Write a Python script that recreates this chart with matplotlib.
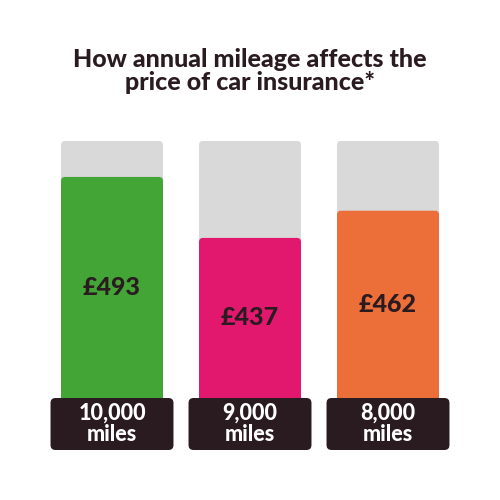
import matplotlib
matplotlib.use("Agg")
import matplotlib.pyplot as plt
from matplotlib.patches import FancyBboxPatch

plt.rcParams['font.family'] = ['Lato', 'DejaVu Sans']

# data
mileage = ["10,000\nmiles", "9,000\nmiles", "8,000\nmiles"]
price = [493, 437, 462]
colours = ["#43a535", "#e2186f", "#ec6e39"]
base = 290       # value at the bottom of the bars
full = 526       # value at the top of the grey bars

grey = "#d9d9d9"
dark = "#2a1b20"

fig = plt.figure(figsize=(5, 5), dpi=100)
# axes: pixel rows 450 (bottom) to 141 (top)
ax = fig.add_axes([0, 0.1, 1, 0.618])
ax.set_xlim(-0.8116, 2.8116)
ppu = 257 / (full - base)          # pixels per value unit
box_units = 52 / ppu
ax.set_ylim(base - box_units, full)
ax.axis("off")

xu = (2.8116 + 0.8116) / 500       # x units per pixel
yu = 1 / ppu                       # y units per pixel


def roundify(bars, r_px, z):
    for b in bars:
        x0, y0 = b.get_x(), b.get_y()
        w, h = b.get_width(), b.get_height()
        p = FancyBboxPatch((x0, y0), w, h,
                           boxstyle="round,pad=0,rounding_size=%f" % (r_px * xu),
                           mutation_aspect=yu / xu,
                           fc=b.get_facecolor(), ec="none", zorder=z)
        b.remove()
        ax.add_patch(p)


xs = list(range(len(price)))
g = ax.bar(xs, [full - base + 10 * yu] * 3, bottom=base - 10 * yu, width=0.739, color=grey)
roundify(g, 4, 1)
c = ax.bar(xs, [v - base + 10 * yu for v in price], bottom=base - 10 * yu, width=0.739, color=colours)
roundify(c, 4, 2)
bx = ax.bar(xs, [box_units] * 3, bottom=base - box_units, width=0.891, color=dark)
roundify(bx, 5, 3)

for i, v in enumerate(price):
    ax.text(i, (base + v) / 2, "£%d" % v, ha="center", va="center",
            fontsize=18, fontweight="black", color=dark, zorder=4)
    ax.text(i, base - box_units / 2, mileage[i], ha="center", va="center",
            fontsize=15.5, fontweight="black", color="white", linespacing=1.0, zorder=4)

fig.text(0.5, 0.858, "How annual mileage affects the\nprice of car insurance*",
         ha="center", va="center", fontsize=18, fontweight="black", color=dark,
         linespacing=1.05)

fig.savefig("out.png", dpi=100, facecolor="white")
